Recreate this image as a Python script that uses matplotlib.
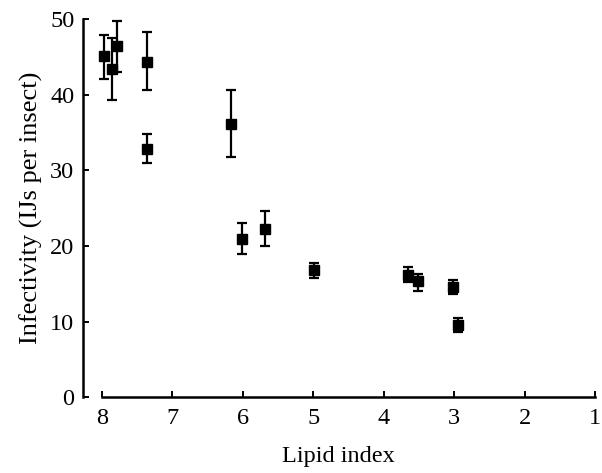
import matplotlib
matplotlib.use("Agg")
import matplotlib.pyplot as plt

lipid_index = [7.97, 7.85, 7.79, 7.36, 7.36, 6.17, 6.01, 5.69, 4.99, 3.65, 3.51, 3.01, 2.94]
infectivity = [45.1, 43.4, 46.5, 44.4, 32.8, 36.1, 20.9, 22.3, 16.8, 16.2, 15.3, 14.6, 9.5]
err_upper = [48.0, 47.5, 49.8, 48.3, 34.8, 40.6, 23.0, 24.7, 17.7, 17.2, 16.3, 15.5, 10.4]
err_lower = [42.1, 39.3, 43.0, 40.7, 31.0, 31.8, 18.9, 20.0, 15.8, 15.2, 14.0, 13.7, 8.6]
x_ticks = [8, 7, 6, 5, 4, 3, 2, 1]
y_ticks = [0, 10, 20, 30, 40, 50]

plt.rcParams['font.family'] = ['Liberation Serif', 'DejaVu Serif']

fig = plt.figure(figsize=(6.02, 4.73), dpi=100)
ax = fig.add_axes([82.7/602, 1-397/473, (595-82.7)/602, (397-19.5)/473])

yerr = [[v - lo for v, lo in zip(infectivity, err_lower)],
        [hi - v for v, hi in zip(infectivity, err_upper)]]
ax.errorbar(lipid_index, infectivity, yerr=yerr, fmt='s', color='black',
            markersize=7, elinewidth=1.6, capsize=3.5, capthick=1.6, ecolor='black')

ax.set_xlim(8.272, 1.0)
ax.set_ylim(0, 50)
ax.set_xticks(x_ticks)
ax.set_yticks(y_ticks)
ax.spines['top'].set_visible(False)
ax.spines['right'].set_visible(False)
ax.spines['bottom'].set_bounds(1, 8)
ax.spines['left'].set_linewidth(1.8)
ax.spines['bottom'].set_linewidth(1.8)
ax.tick_params(direction='in', length=4, width=1.4, labelsize=17.5, pad=8)
ax.tick_params(axis='y', pad=6)
ax.set_xlabel('Lipid index', fontsize=17.5, labelpad=12)
ax.set_ylabel('Infectivity (IJs per insect)', fontsize=19, labelpad=5)

fig.savefig('out.png', dpi=100)
